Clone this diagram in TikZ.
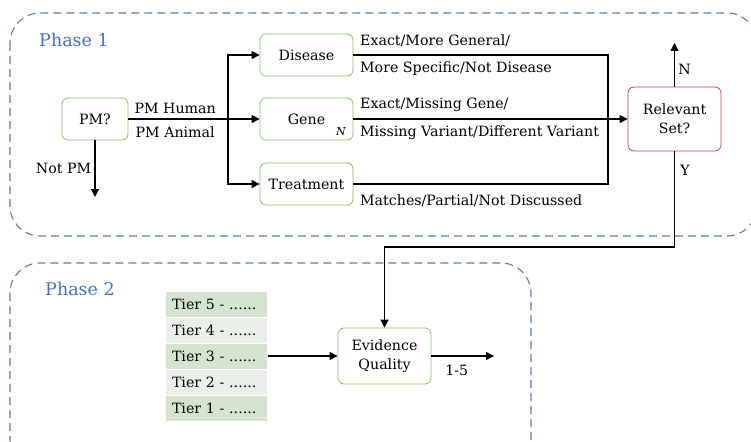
\documentclass[tikz,border=0pt]{standalone}
\usepackage{fontspec}
\setmainfont{DejaVu Serif}
\usetikzlibrary{positioning,arrows.meta}
\definecolor{phaseblue}{HTML}{4472C4}
\definecolor{dashblue}{HTML}{5A7EA6}
\definecolor{boxgreen}{HTML}{8CBF6A}
\definecolor{boxred}{HTML}{C84040}
\definecolor{tierdark}{HTML}{D6E3CE}
\definecolor{tierlight}{HTML}{EAF0E7}

\begin{document}
\begin{tikzpicture}[
    x=1pt, y=-1pt,
    font=\fontsize{14.2}{19}\selectfont,
    main/.style = {draw=boxgreen, line width=0.8pt, rounded corners=6pt,
                   minimum width=93pt, minimum height=42pt, align=center, fill=white},
    decide/.style = {main, draw=boxred},
    phasebox/.style = {draw=dashblue, line width=1.1pt, dash pattern=on 8pt off 5pt, rounded corners=30pt},
    phaselabel/.style = {text=phaseblue, font=\fontsize{17.5}{20}\selectfont},
    tier/.style = {draw=white, line width=1pt, minimum width=102pt, minimum height=26pt,
                   text width=88pt, align=left, inner sep=0pt},
    arr/.style = {-{Triangle[length=8pt,width=8pt]}, line width=1.1pt},
    lbl/.style = {anchor=west, inner sep=0pt}
  ]
    \useasboundingbox (0,0) rectangle (751,441);

    % the two phases
    \draw[phasebox] (10,13) rectangle (757,236);
    \draw[phasebox] (10,263) rectangle (531,470);
    \node[phaselabel] (p1) at (74,40) {Phase 1};
    \node[phaselabel] (p2) at (80,289) {Phase 2};

    % phase 1
    \node[main, minimum width=66pt] (pm) at (95,119) {PM?};
    \node[main] (disease) at (306.5,55) {Disease};
    \node[main] (gene) at (306.5,119) {Gene};
    \node[font=\itshape\fontsize{11}{12}\selectfont] (gsub) at (341,132) {N};
    \node[main] (treat) at (306.5,184) {Treatment};
    \node[decide, minimum height=64pt] (relset) at (674.5,119) {Relevant\\Set?};

    \coordinate (split) at (228,119);
    \coordinate (notpm) at (95,197);
    \coordinate (dtop) at (608,55);
    \coordinate (dbot) at (608,184);
    \coordinate (nout) at (674.5,43);
    \coordinate (ybend) at (674.5,247);

    \draw[line width=1.1pt] (pm) -- node[above=1pt, xshift=-3pt]{PM Human} node[below=4pt, xshift=-3pt]{PM Animal} (split);
    \draw[arr] (split) -- (gene);
    \draw[arr] (split) |- (disease);
    \draw[arr] (split) |- (treat);
    \draw[arr] (pm) -- node[left]{Not PM} (notpm);

    \draw[line width=1.1pt] (disease) -- (dtop) -- (dbot) -- (treat);
    \draw[arr] (gene) -- (relset);
    \node[lbl] (dl1) at (360,41) {Exact/More General/};
    \node[lbl] (dl2) at (360,69) {More Specific/Not Disease};
    \node[lbl] (gl1) at (360,105) {Exact/Missing Gene/};
    \node[lbl] (gl2) at (360,133) {Missing Variant/Different Variant};
    \node[lbl] (tl1) at (360,201) {Matches/Partial/Not Discussed};

    \draw[arr] (relset) -- node[pos=0.4, right]{N} (nout);

    % phase 2
    \foreach \i/\c in {5/tierdark, 4/tierlight, 3/tierdark, 2/tierlight, 1/tierdark}
      \node[tier, fill=\c] (t\i) at (216,{304+(5-\i)*26}) {Tier \i\ - ......};
    \node[main, minimum height=56pt] (evid) at (384.5,356) {Evidence\\Quality};
    \coordinate (score) at (494,356);

    \draw[arr] (relset) -- node[pos=0.2, right, xshift=2pt]{Y} (ybend) -| (evid);
    \draw[arr] (t3) -- (evid);
    \draw[arr] (evid) -- node[below=5pt, xshift=-6pt]{1-5} (score);
  \end{tikzpicture}
\end{document}
